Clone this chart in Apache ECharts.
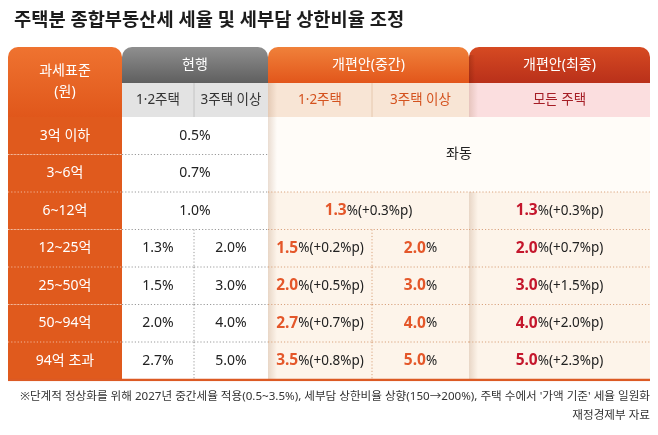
<!DOCTYPE html>
<html>
<head>
<meta charset="utf-8">
<script src="https://cdn.jsdelivr.net/npm/echarts@6/dist/echarts.min.js"></script>
<style>
  html, body { margin: 0; padding: 0; background: #fff; }
  #main { width: 658px; height: 435px; }
</style>
</head>
<body>
<div id="main"></div>
<script>
// 표 데이터
var titleText = '주택분 종합부동산세 세율 및 세부담 상한비율 조정';
var cornerText = '과세표준\n(원)';
var groupHeaders = ['현행', '개편안(중간)', '개편안(최종)'];
var subHeaders = ['1·2주택', '3주택 이상', '1·2주택', '3주택 이상', '모든 주택'];
var bands = ['3억 이하', '3~6억', '6~12억', '12~25억', '25~50억', '50~94억', '94억 초과'];
// 현행 세율(%)
var curRate12 = [0.5, 0.7, 1.0, 1.3, 1.5, 2.0, 2.7];
var curRate3 = [0.5, 0.7, 1.0, 2.0, 3.0, 4.0, 5.0];
// 개편안(중간) 세율(%) / 인상폭(%p), null = 좌동
var midRate12 = [null, null, 1.3, 1.5, 2.0, 2.7, 3.5];
var midChange12 = [null, null, 0.3, 0.2, 0.5, 0.7, 0.8];
var midRate3 = [null, null, 1.3, 2.0, 3.0, 4.0, 5.0];
// 개편안(최종)
var finRate = [null, null, 1.3, 2.0, 3.0, 4.0, 5.0];
var finChange = [null, null, 0.3, 0.7, 1.5, 2.0, 2.3];
var sameText = '좌동';
var noteText = '※단계적 정상화를 위해 2027년 중간세율 적용(0.5~3.5%), 세부담 상한비율 상향(150→200%), 주택 수에서 \'가액 기준\' 세율 일원화';
var sourceText = '재정경제부 자료';

// 열/행 경계 (축 단위)
var COL_EDGES = [0, 114, 186, 260, 364, 461, 642];
var ROW_EDGES = [0, 36, 70, 107.5, 145, 182.5, 220, 257.5, 295, 333];

var FONT = '"Noto Sans", "Noto Sans CJK KR", sans-serif';
var myChart = echarts.init(document.getElementById('main'));

function fmt(v) { return v.toFixed(1); }

// 셀 목록 만들기
var cells = [];
cells.push({c0: 0, c1: 1, r0: 0, r1: 2, kind: 'corner', text: cornerText});
cells.push({c0: 1, c1: 3, r0: 0, r1: 1, kind: 'gCur', text: groupHeaders[0]});
cells.push({c0: 3, c1: 5, r0: 0, r1: 1, kind: 'gMid', text: groupHeaders[1]});
cells.push({c0: 5, c1: 6, r0: 0, r1: 1, kind: 'gFin', text: groupHeaders[2]});
var subKinds = ['sCur', 'sCur', 'sMid', 'sMid', 'sFin'];
for (var s = 0; s < subHeaders.length; s++) {
    cells.push({c0: s + 1, c1: s + 2, r0: 1, r1: 2, kind: subKinds[s], text: subHeaders[s],
        split: (s === 0 || s === 2)});
}
for (var i = 0; i < bands.length; i++) {
    var r = i + 2;
    cells.push({c0: 0, c1: 1, r0: r, r1: r + 1, kind: 'label', text: bands[i]});
    if (curRate12[i] === curRate3[i]) {
        cells.push({c0: 1, c1: 3, r0: r, r1: r + 1, kind: 'cur', text: fmt(curRate12[i]) + '%'});
    } else {
        cells.push({c0: 1, c1: 2, r0: r, r1: r + 1, kind: 'cur', text: fmt(curRate12[i]) + '%', split: true});
        cells.push({c0: 2, c1: 3, r0: r, r1: r + 1, kind: 'cur', text: fmt(curRate3[i]) + '%'});
    }
    if (midRate12[i] === null) {
        if (i === 0 || midRate12[i - 1] !== null) {
            var j = i;
            while (j + 1 < bands.length && midRate12[j + 1] === null) j++;
            cells.push({c0: 3, c1: 6, r0: r, r1: j + 3, kind: 'same', text: sameText});
        }
        continue;
    }
    if (midRate12[i] === midRate3[i]) {
        cells.push({c0: 3, c1: 5, r0: r, r1: r + 1, kind: 'mid',
            text: '{mb|' + fmt(midRate12[i]) + '}{n|%(+' + fmt(midChange12[i]) + '%p)}'});
    } else {
        cells.push({c0: 3, c1: 4, r0: r, r1: r + 1, kind: 'mid', split: true,
            text: '{mb|' + fmt(midRate12[i]) + '}{n|%(+' + fmt(midChange12[i]) + '%p)}'});
        cells.push({c0: 4, c1: 5, r0: r, r1: r + 1, kind: 'mid',
            text: '{mb|' + fmt(midRate3[i]) + '}{n|%}'});
    }
    cells.push({c0: 5, c1: 6, r0: r, r1: r + 1, kind: 'fin',
        text: '{fb|' + fmt(finRate[i]) + '}{n|%(+' + fmt(finChange[i]) + '%p)}'});
}

var vGrad = function (a, b) {
    return new echarts.graphic.LinearGradient(0, 0, 0, 1, [{offset: 0, color: a}, {offset: 1, color: b}]);
};
var STYLE = {
    corner: {fill: vGrad('#ef7330', '#e0571b'), color: '#fff', size: 14, radius: [10, 10, 0, 0]},
    gCur: {fill: vGrad('#8f8f8f', '#5f5f5f'), color: '#fff', size: 14, radius: [10, 10, 0, 0]},
    gMid: {fill: vGrad('#f0813a', '#e2561b'), color: '#fff', size: 14, radius: [10, 10, 0, 0]},
    gFin: {fill: vGrad('#d64a22', '#b9301a'), color: '#fff', size: 14, radius: [10, 10, 0, 0]},
    sCur: {fill: '#e3e3e3', color: '#333', size: 13.5, vline: '#c4c4c4'},
    sMid: {fill: '#f8e5d5', color: '#d4521e', size: 13.5, vline: '#e6c8ae'},
    sFin: {fill: '#fbdedf', color: '#a51d25', size: 13.5},
    label: {fill: '#e05a1d', color: '#fff', size: 14, line: 'rgba(255,255,255,0.55)'},
    cur: {fill: '#ffffff', color: '#222', size: 14, line: '#9a9a9a', vline: '#9a9a9a'},
    same: {fill: '#fffcf8', color: '#222', size: 14, line: '#d9a47e'},
    mid: {fill: '#fdf4ea', color: '#222', size: 14, line: '#d9a47e', vline: '#d9a47e'},
    fin: {fill: '#fdf4ea', color: '#222', size: 14, line: '#d9a47e'}
};
var RICH = {
    mb: {fontFamily: FONT, fontSize: 15.5, fontWeight: 'bold', fill: '#e4572a'},
    fb: {fontFamily: FONT, fontSize: 15.5, fontWeight: 'bold', fill: '#c4162c'},
    n: {fontFamily: FONT, fontSize: 13.5, fill: '#222'}
};
var LAST_ROW = ROW_EDGES.length - 1;

function renderItem(params, api) {
    var cell = cells[params.dataIndex];
    var st = STYLE[cell.kind];
    var p0 = api.coord([COL_EDGES[cell.c0], ROW_EDGES[cell.r0]]);
    var p1 = api.coord([COL_EDGES[cell.c1], ROW_EDGES[cell.r1]]);
    var x = p0[0], y = p0[1], w = p1[0] - p0[0], h = p1[1] - p0[1];
    var children = [{
        type: 'rect',
        shape: {x: x, y: y, width: w, height: h, r: st.radius || 0},
        style: {fill: st.fill}
    }];
    // 개편안 영역 왼쪽 그림자
    if ((cell.c0 === 3 || (cell.c0 === 5 && cell.kind !== 'gFin')) && cell.r0 >= 1) {
        children.push({
            type: 'rect', z2: 5,
            shape: {x: x, y: y, width: 9, height: h},
            style: {fill: new echarts.graphic.LinearGradient(0, 0, 1, 0, [
                {offset: 0, color: 'rgba(150,95,55,0.20)'}, {offset: 1, color: 'rgba(150,95,55,0)'}])}
        });
    }
    if (cell.kind === 'gFin') {
        children.push({
            type: 'rect', z2: 5,
            shape: {x: x, y: y + 8, width: 6, height: h - 8},
            style: {fill: new echarts.graphic.LinearGradient(0, 0, 1, 0, [
                {offset: 0, color: 'rgba(90,20,0,0.25)'}, {offset: 1, color: 'rgba(90,20,0,0)'}])}
        });
    }
    if (st.line && cell.r1 < LAST_ROW) {
        children.push({
            type: 'line', z2: 10,
            shape: {x1: x, y1: y + h, x2: x + w, y2: y + h},
            style: {stroke: st.line, lineWidth: 1, lineDash: [1.2, 2]}
        });
    }
    if (cell.split && st.vline) {
        var dashed = cell.r0 >= 2;
        children.push({
            type: 'line', z2: 10,
            shape: {x1: x + w, y1: y, x2: x + w, y2: y + h},
            style: {stroke: st.vline, lineWidth: 1, lineDash: dashed ? [1.2, 2] : null}
        });
    }
    var textStyle = {
        x: x + w / 2, y: y + h / 2,
        text: cell.text,
        align: 'center', verticalAlign: 'middle',
        fontFamily: FONT, fontSize: st.size, fill: st.color,
        lineHeight: 21
    };
    if (cell.kind === 'mid' || cell.kind === 'fin') textStyle.rich = RICH;
    children.push({type: 'text', z2: 20, style: textStyle});
    return {type: 'group', children: children};
}

var option = {
    backgroundColor: '#ffffff',
    animation: false,
    title: {
        text: titleText,
        left: 9, top: 6,
        textStyle: {fontFamily: FONT, fontSize: 18.7, fontWeight: 'bold', color: '#1c1c1c'}
    },
    grid: {left: 8, top: 47, width: 642, height: 333},
    xAxis: {type: 'value', min: 0, max: 642, show: false},
    yAxis: {type: 'value', min: 0, max: 333, inverse: true, show: false},
    series: [{
        type: 'custom',
        renderItem: renderItem,
        data: cells.map(function (c, k) { return [COL_EDGES[c.c0], ROW_EDGES[c.r0], k]; }),
        clip: false,
        silent: true
    }, {
        // 표 하단 주황색 선
        type: 'line',
        data: [[0, 333], [642, 333]],
        symbol: 'none',
        lineStyle: {color: '#dc5a24', width: 2.5},
        silent: true
    }],
    graphic: [{
        type: 'text', right: 8, top: 391,
        style: {text: noteText, fontFamily: FONT, fontSize: 11.6, fill: '#333'}
    }, {
        type: 'text', right: 8, top: 410,
        style: {text: sourceText, fontFamily: FONT, fontSize: 11.6, fill: '#333'}
    }]
};
myChart.setOption(option);
</script>
</body>
</html>
